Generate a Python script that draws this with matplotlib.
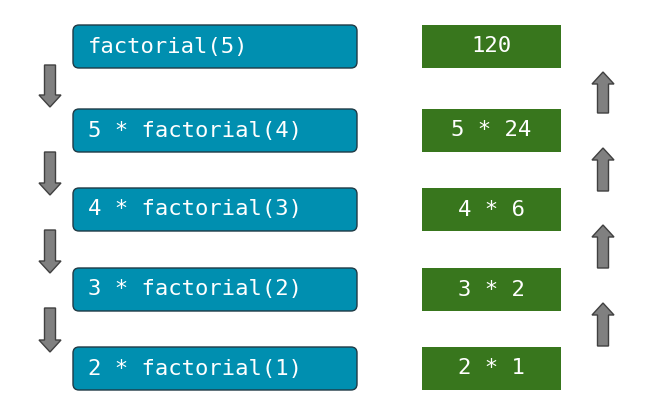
import matplotlib
matplotlib.use("Agg")
import matplotlib.pyplot as plt
from matplotlib.patches import FancyBboxPatch, FancyArrow

calls = ["factorial(5)", "5 * factorial(4)", "4 * factorial(3)",
         "3 * factorial(2)", "2 * factorial(1)"]
results = ["120", "5 * 24", "4 * 6", "3 * 2", "2 * 1"]
row_top = [25, 109, 188, 268, 347]
down_arrows = [(65, 107), (152, 195), (230, 273), (308, 352)]
up_arrows = [(113, 72), (191, 148), (268, 225), (346, 303)]

fig = plt.figure(figsize=(6.57, 4.18), dpi=100)
ax = fig.add_axes([0, 0, 1, 1])
ax.set_xlim(0, 657)
ax.set_ylim(418, 0)
ax.axis("off")

h = 43
for label, y in zip(calls, row_top):
    ax.add_patch(FancyBboxPatch((73, y), 284, h, boxstyle="round,pad=0,rounding_size=6",
                                fc="#008fb0", ec="#1f3a45", lw=1))
    ax.text(88, y + h / 2, label, color="white", fontsize=16,
            family="DejaVu Sans Mono", va="center", ha="left")

for label, y in zip(results, row_top):
    ax.add_patch(plt.Rectangle((422, y), 139, h, fc="#38761d", ec="none"))
    ax.text(491.5, y + h / 2, label, color="white", fontsize=16,
            family="DejaVu Sans Mono", va="center", ha="center")

def arrow(x, y0, y1):
    ax.add_patch(FancyArrow(x, y0, 0, y1 - y0, width=11, head_width=22,
                            head_length=12, length_includes_head=True,
                            fc="#808080", ec="#404040", lw=1))

for y0, y1 in down_arrows:
    arrow(50, y0, y1)
for y0, y1 in up_arrows:
    arrow(603, y0, y1)

fig.savefig("out.png", dpi=100)
